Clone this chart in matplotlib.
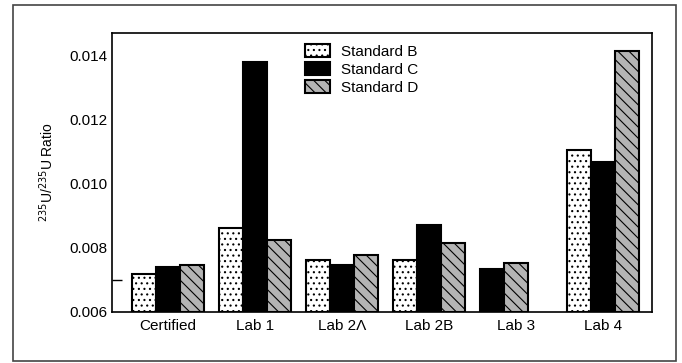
import numpy as np
import matplotlib.pyplot as plt
from matplotlib.patches import Rectangle

plt.rcParams['font.family'] = ['Liberation Sans', 'DejaVu Sans']
plt.rcParams['hatch.linewidth'] = 0.8

# Data
groups = ['Certified', 'Lab 1', 'Lab 2\u039b', 'Lab 2B', 'Lab 3', 'Lab 4']
series = ['Standard B', 'Standard C', 'Standard D']
std_b = [0.00720, 0.00861, 0.00761, 0.00761, np.nan, 0.01104]
std_c = [0.00740, 0.01379, 0.00747, 0.00871, 0.00735, 0.01068]
std_d = [0.00747, 0.00826, 0.00779, 0.00816, 0.00752, 0.01416]

# Bar styles
colors = ['white', 'black', '#b4b4b4']
hatches = ['...', None, '\\\\\\']

fig = plt.figure(figsize=(6.82, 3.63), dpi=100)
# outer frame around the whole figure
fig.patches.append(Rectangle((0.019, 0.006), 0.972, 0.980, transform=fig.transFigure,
                             fill=False, edgecolor='#444444', linewidth=1.2))

ax = fig.add_axes([0.164, 0.1405, 0.792, 0.768])

width = 0.275
values = [std_b, std_c, std_d]
for g in range(len(groups)):
    # bars that exist in this group are packed from the left slot
    present = [s for s in range(3) if not np.isnan(values[s][g])]
    for k, s in enumerate(present):
        x = g + (k - 1) * width
        ax.bar(x, values[s][g] - 0.006, width, bottom=0.006,
               color=colors[s], hatch=hatches[s], edgecolor='black',
               linewidth=1.5, label=series[s] if g == 0 else None)

ax.set_xlim(-0.647, 5.56)
ax.set_ylim(0.006, 0.0147)
ax.set_xticks(range(len(groups)))
ax.set_xticklabels(groups)
ax.set_yticks([0.006, 0.008, 0.010, 0.012, 0.014])
ax.set_yticklabels(['0.006', '0.008', '0.010', '0.012', '0.014'])
ax.set_yticks([0.007], minor=True)
ax.tick_params(axis='both', which='major', length=0, labelsize=11, pad=3)
ax.tick_params(axis='x', which='major', pad=5)
ax.tick_params(axis='y', which='minor', direction='in', length=7, width=1)
for sp in ax.spines.values():
    sp.set_linewidth(1.2)

ax.set_ylabel('$^{235}$U/$^{235}$U Ratio', fontsize=10, labelpad=10)

ax.legend(loc='upper left', bbox_to_anchor=(0.357, 0.96), frameon=False,
          fontsize=11, handlelength=1.65, handleheight=0.9, labelspacing=0.22,
          handletextpad=0.7, borderpad=0, borderaxespad=0)

fig.savefig('out.png', dpi=100)
